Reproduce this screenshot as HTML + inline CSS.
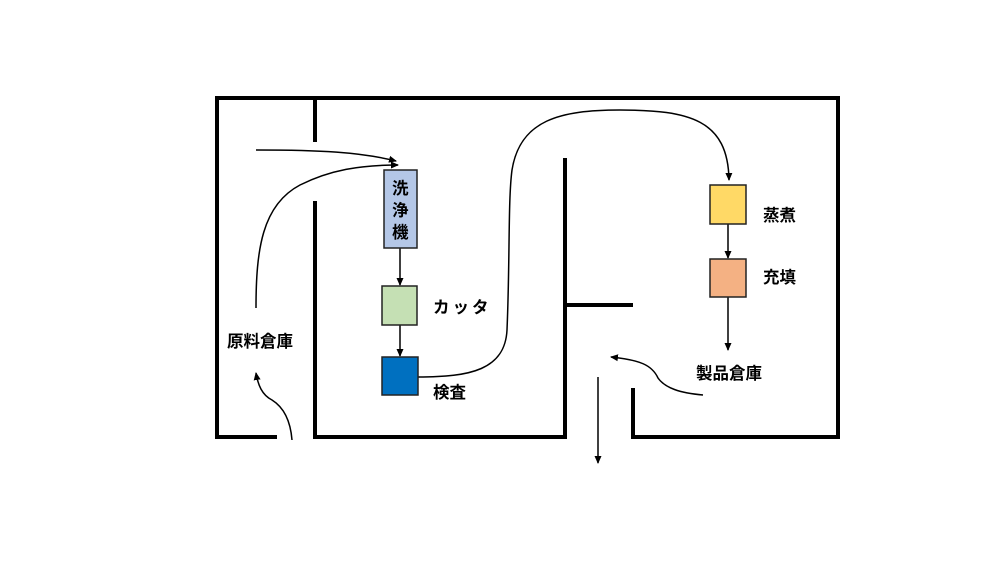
<!DOCTYPE html>
<html><head><meta charset="utf-8"><style>
body{margin:0;background:#fff;}
text{font-family:"Liberation Sans","Noto Sans CJK JP",sans-serif;font-size:16.5px;font-weight:600;fill:#000;}
</style></head><body>
<svg width="1000" height="562" viewBox="0 0 1000 562">
<defs><marker id="a" markerWidth="8" markerHeight="8" refX="7" refY="4" orient="auto" markerUnits="userSpaceOnUse"><path d="M0,0.5 L8,4 L0,7.5 Z" fill="#000"/></marker></defs>
<g stroke="#000" stroke-width="4" fill="none" stroke-linecap="square">
<path d="M275,437 H217 V98 H838 V437 H633 V390"/>
<path d="M315,98 V140"/>
<path d="M315,203 V437 H565 V160"/>
<path d="M565,305 H631"/>
</g>
<g stroke="#000" stroke-width="1.5" fill="none">
<path d="M256,150 C320,150 360,152 396,161" marker-end="url(#a)"/>
<path d="M256,308 C256,250 262,205 300,185 C330,170 360,165 398,165" marker-end="url(#a)"/>
<path d="M292,440 C290,415 280,405 272,400 C262,395 258,385 256,373" marker-end="url(#a)"/>
<path d="M400,248 V285" marker-end="url(#a)"/>
<path d="M400,325 V356" marker-end="url(#a)"/>
<path d="M418,377 C470,377 505,370 507,330 C510,260 508,200 512,170 C520,120 560,110 620,110 C690,110 728,120 729,180" marker-end="url(#a)"/>
<path d="M728,224 V258" marker-end="url(#a)"/>
<path d="M728,297 V350" marker-end="url(#a)"/>
<path d="M703,395 C680,393 665,388 658,378 C652,365 640,360 611,357" marker-end="url(#a)"/>
<path d="M598,377 V463" marker-end="url(#a)"/>
</g>
<g stroke="#222" stroke-width="1.5">
<rect x="384" y="170" width="33" height="78" fill="#b4c7e7"/>
<rect x="382" y="286" width="35" height="39" fill="#c5e0b4"/>
<rect x="382" y="357" width="36" height="38" fill="#0070c0"/>
<rect x="710" y="185" width="36" height="39" fill="#ffd966"/>
<rect x="710" y="259" width="36" height="38" fill="#f4b183"/>
</g>
<text x="392" y="194">洗</text>
<text x="392" y="216">浄</text>
<text x="392" y="238">機</text>
<text x="433" y="313" letter-spacing="3">カッタ</text>
<text x="433" y="398">検査</text>
<text x="227" y="347">原料倉庫</text>
<text x="763" y="221">蒸煮</text>
<text x="763" y="283">充填</text>
<text x="696" y="379">製品倉庫</text>
</svg>
</body></html>
